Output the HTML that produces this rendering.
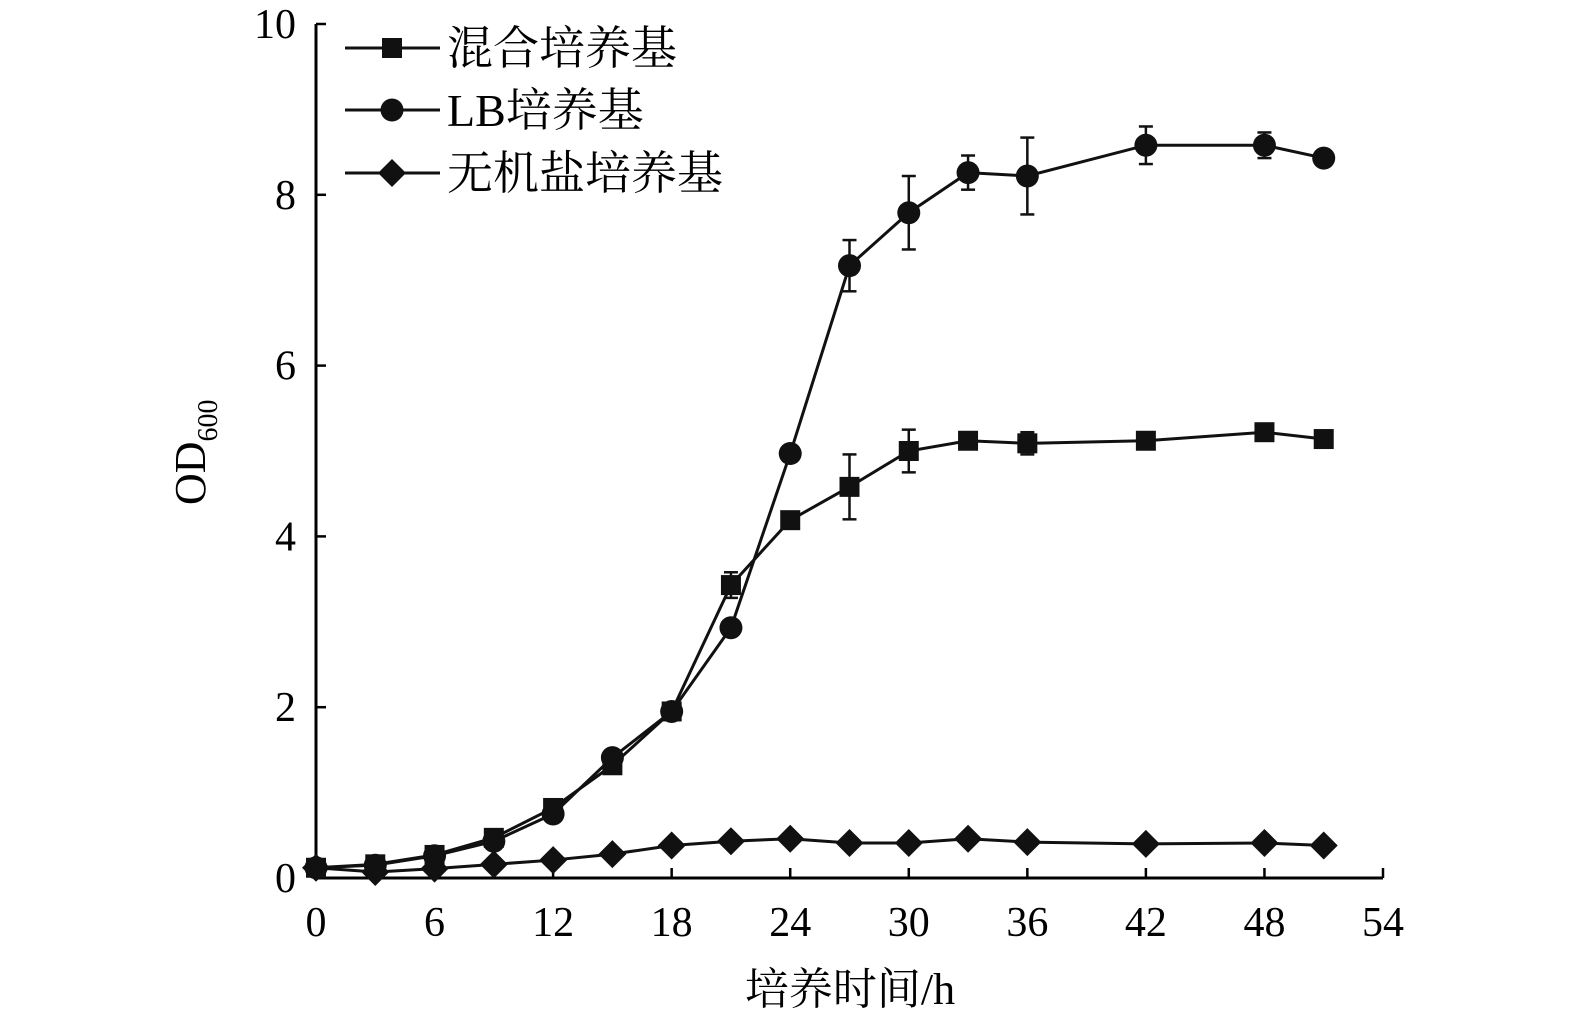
<!DOCTYPE html>
<html><head><meta charset="utf-8"><style>body{margin:0;background:#fff}svg{display:block}</style></head>
<body>
<svg id="chart" width="1575" height="1024" xmlns="http://www.w3.org/2000/svg" font-family="'Liberation Serif','Noto Serif CJK SC',serif"></svg>
<script>
const xVals=[0,3,6,9,12,15,18,21,24,27,30,33,36,42,48,51];
const mixed=[0.12,0.16,0.27,0.47,0.82,1.32,1.95,3.43,4.19,4.58,5.00,5.12,5.09,5.12,5.22,5.14];
const mixedErr=[0,0,0,0,0,0,0,0.15,0,0.38,0.25,0.05,0.13,0,0,0];
const lb=[0.12,0.15,0.26,0.43,0.75,1.41,1.95,2.93,4.97,7.17,7.79,8.26,8.22,8.58,8.58,8.43];
const lbErr=[0,0,0,0,0,0,0,0,0,0.3,0.43,0.2,0.45,0.22,0.15,0];
const mineral=[0.12,0.07,0.11,0.16,0.21,0.28,0.38,0.43,0.46,0.41,0.41,0.46,0.42,0.40,0.41,0.38];
const xTicks=[0,6,12,18,24,30,36,42,48,54];
const yTicks=[0,2,4,6,8,10];
const X=v=>316+v*(1383-316)/54, Y=v=>878-v*(878-24)/10;
const svg=document.getElementById('chart');const NS='http://www.w3.org/2000/svg';
function mk(t,a,p){const e=document.createElementNS(NS,t);for(const k in a)e.setAttribute(k,a[k]);(p||svg).appendChild(e);return e;}
let e;
e=mk('line',{x1:316,y1:24,x2:316,y2:878,stroke:'#000','stroke-width':3});


e=mk('line',{x1:316,y1:878,x2:1383,y2:878,stroke:'#000','stroke-width':3});


xTicks.forEach(t=>{mk('line',{x1:X(t),y1:878,x2:X(t),y2:868,stroke:'#000','stroke-width':2.5});
 e=mk('text',{x:X(t),y:936,'font-size':42,'text-anchor':'middle'});e.textContent=t;
 
 });
yTicks.forEach(t=>{mk('line',{x1:316,y1:Y(t),x2:326,y2:Y(t),stroke:'#000','stroke-width':2.5});
 e=mk('text',{x:296,y:Y(t)+14,'font-size':42,'text-anchor':'end'});e.textContent=t;
 
 });
e=mk('text',{x:850,y:1004,'font-size':44,'text-anchor':'middle'});e.textContent='培养时间/h';


e=mk('text',{transform:'translate(205,505) rotate(-90)','font-size':44});e.innerHTML='OD<tspan font-size="28" dy="12">600</tspan>';


function marker(kind,cx,cy,g){
 if(kind==='sq')return mk('rect',{x:cx-10,y:cy-10,width:20,height:20,fill:'#111'},g);
 if(kind==='ci')return mk('circle',{cx:cx,cy:cy,r:11.5,fill:'#111'},g);
 return mk('polygon',{points:`${cx},${cy-14} ${cx+14},${cy} ${cx},${cy+14} ${cx-14},${cy}`,fill:'#111'},g);
}
function series(name,vals,errs,kind){
 const g=mk('g',{});
 mk('polyline',{points:xVals.map((x,i)=>X(x)+','+Y(vals[i])).join(' '),fill:'none',stroke:'#111','stroke-width':3},g);
 if(errs)xVals.forEach((x,i)=>{if(errs[i]>0){const cx=X(x),a=Y(vals[i]+errs[i]),b=Y(vals[i]-errs[i]);
  mk('line',{x1:cx,y1:a,x2:cx,y2:b,stroke:'#111','stroke-width':2.5},g);
  mk('line',{x1:cx-7,y1:a,x2:cx+7,y2:a,stroke:'#111','stroke-width':2.5},g);
  mk('line',{x1:cx-7,y1:b,x2:cx+7,y2:b,stroke:'#111','stroke-width':2.5},g);}});
 xVals.forEach((x,i)=>{const m=marker(kind,X(x),Y(vals[i]),g);
  
  });
}
series('series-mineral',mineral,null,'di');
series('series-mixed',mixed,mixedErr,'sq');
series('series-lb',lb,lbErr,'ci');
const leg=[['混合培养基','sq',48],['LB培养基','ci',110],['无机盐培养基','di',173]];
leg.forEach(l=>{const g=mk('g',{});
 mk('line',{x1:345,y1:l[2],x2:440,y2:l[2],stroke:'#111','stroke-width':3},g);
 marker(l[1],392,l[2],g);
 const t=mk('text',{x:447,y:l[2]+16,'font-size':46},g);t.textContent=l[0];});
</script>
</body></html>
